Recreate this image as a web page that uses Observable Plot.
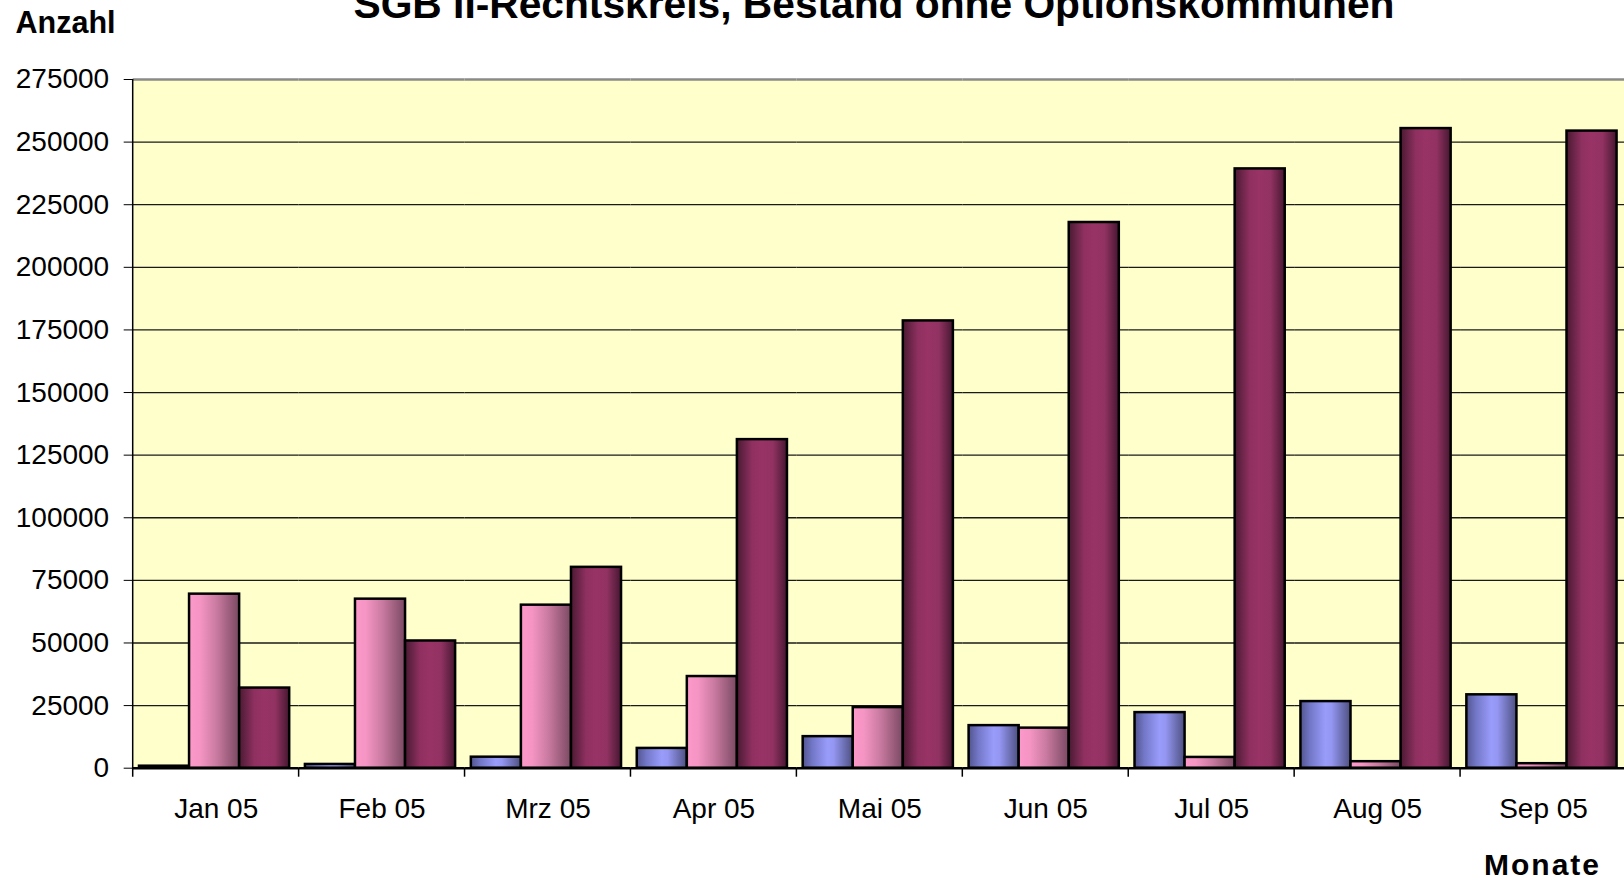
<!DOCTYPE html>
<html><head><meta charset="utf-8">
<script src="https://cdn.jsdelivr.net/npm/d3@7"></script>
<script src="https://cdn.jsdelivr.net/npm/@observablehq/plot@0.6"></script>
<style>
html,body{margin:0;padding:0;background:#fff;overflow:hidden;}
#wrap{position:relative;width:1624px;height:880px;overflow:hidden;}
#wrap svg{max-width:none !important;}
</style></head><body>
<div id="wrap"></div>
<script>
const months = ["Jan 05","Feb 05","Mrz 05","Apr 05","Mai 05","Jun 05","Jul 05","Aug 05","Sep 05"];
const seriesNames = ["Reihe 1","Reihe 2","Reihe 3"];
const reihe1 = [800, 1500, 4400, 7900, 12600, 17000, 22200, 26600, 29300];
const reihe2 = [69500, 67500, 65100, 36600, 24200, 16000, 4300, 2600, 1800];
const reihe3 = [32000, 50800, 80200, 131200, 178600, 217900, 239300, 255400, 254400];
const yTicks = [0, 25000, 50000, 75000, 100000, 125000, 150000, 175000, 200000, 225000, 250000, 275000];
const titleText = "SGB II-Rechtskreis, Bestand ohne Optionskommunen";
const yTitle = "Anzahl";
const xTitle = "Monate";

const seriesValues = [reihe1, reihe2, reihe3];
const rows = months.flatMap((m, i) => seriesNames.map((s, j) => ({month: m, series: s, value: seriesValues[j][i]})));
const fillOf = {"Reihe 1": "url(#gBlue)", "Reihe 2": "url(#gPink)", "Reihe 3": "url(#gDark)"};
const gradients = [
  {id: "gBlue", stops: [[0, "#52558e"], [0.2, "#7478c8"], [0.5, "#9a9cfb"], [0.62, "#9496f2"], [1, "#4d5080"]]},
  {id: "gPink", stops: [[0, "#fc99ca"], [0.22, "#f595c4"], [0.55, "#c97aa0"], [1, "#7a4962"]]},
  {id: "gDark", stops: [[0, "#4a1a32"], [0.3, "#8e3060"], [0.5, "#993366"], [0.72, "#913262"], [1, "#461730"]]}
];

const plot = Plot.plot({
  width: 1626, height: 880,
  marginTop: 79, marginBottom: 112.3, marginLeft: 132.7, marginRight: 0,
  style: {fontFamily: "'Liberation Sans', Arial, sans-serif", fontSize: "28px", color: "#000", background: "#fff", overflow: "visible"},
  facet: {data: rows, x: "month"},
  fx: {domain: months, padding: 0, round: false, axis: "bottom", tickSize: 0, tickPadding: 30, label: null},
  x: {domain: seriesNames, paddingInner: 0, paddingOuter: 0.157, align: 0.4, round: false, axis: null},
  y: {domain: [0, 275000], ticks: yTicks, tickSize: 9, tickPadding: 15, tickFormat: d3.format("d"), label: null},
  color: {type: "identity"},
  marks: [
    Plot.ruleY(yTicks.slice(1, -1), {stroke: "#1a1a1a", strokeWidth: 1.3}),
    Plot.barY(rows, {x: "series", y: "value", fill: d => fillOf[d.series], stroke: "#000", strokeWidth: 2.5}),
    Plot.ruleY([275000], {stroke: "#8a8a8a", strokeWidth: 2.5}),
    Plot.ruleY([0], {stroke: "#000", strokeWidth: 2.5})
  ]
});

document.getElementById("wrap").appendChild(plot);

const fx = plot.scale("fx"), y = plot.scale("y");
const s = d3.select(plot);
const defs = s.insert("defs", ":first-child");
gradients.forEach(g => {
  const lg = defs.append("linearGradient").attr("id", g.id).attr("x1", 0).attr("x2", 1).attr("y1", 0).attr("y2", 0);
  g.stops.forEach(([o, c]) => lg.append("stop").attr("offset", o).attr("stop-color", c));
});
const xa = fx.range[0], xb = fx.range[1];
const y0 = y.apply(0), yTop = y.apply(275000);
const bg = document.createElementNS("http://www.w3.org/2000/svg", "rect");
bg.setAttribute("x", xa); bg.setAttribute("y", yTop);
bg.setAttribute("width", xb - xa); bg.setAttribute("height", y0 - yTop);
bg.setAttribute("fill", "#ffffcc");
plot.insertBefore(bg, defs.node().nextSibling);

const g = s.append("g").attr("stroke", "#000").attr("stroke-width", 1.5);
g.append("line").attr("x1", xa).attr("x2", xa).attr("y1", yTop).attr("y2", y0 + 9);
months.forEach((m, i) => {
  if (i === 0) return;
  const x = fx.apply(m);
  g.append("line").attr("x1", x).attr("x2", x).attr("y1", y0).attr("y2", y0 + 9);
});
const xe = fx.apply(months[months.length - 1]) + fx.bandwidth;
g.append("line").attr("x1", xe).attr("x2", xe).attr("y1", y0).attr("y2", y0 + 9);

const t = s.append("g").attr("font-family", "'Liberation Sans', Arial, sans-serif").attr("font-weight", "bold").attr("fill", "#000");
t.append("text").attr("x", 874).attr("y", 18).attr("text-anchor", "middle").attr("font-size", 40)
  .attr("textLength", 1041).attr("lengthAdjust", "spacingAndGlyphs").text(titleText);
t.append("text").attr("x", 15.5).attr("y", 33).attr("text-anchor", "start").attr("font-size", 31)
  .attr("textLength", 100).attr("lengthAdjust", "spacingAndGlyphs").text(yTitle);
t.append("text").attr("x", 1601).attr("y", 875).attr("text-anchor", "end").attr("font-size", 30)
  .attr("letter-spacing", "2px").text(xTitle);
</script>
</body></html>
